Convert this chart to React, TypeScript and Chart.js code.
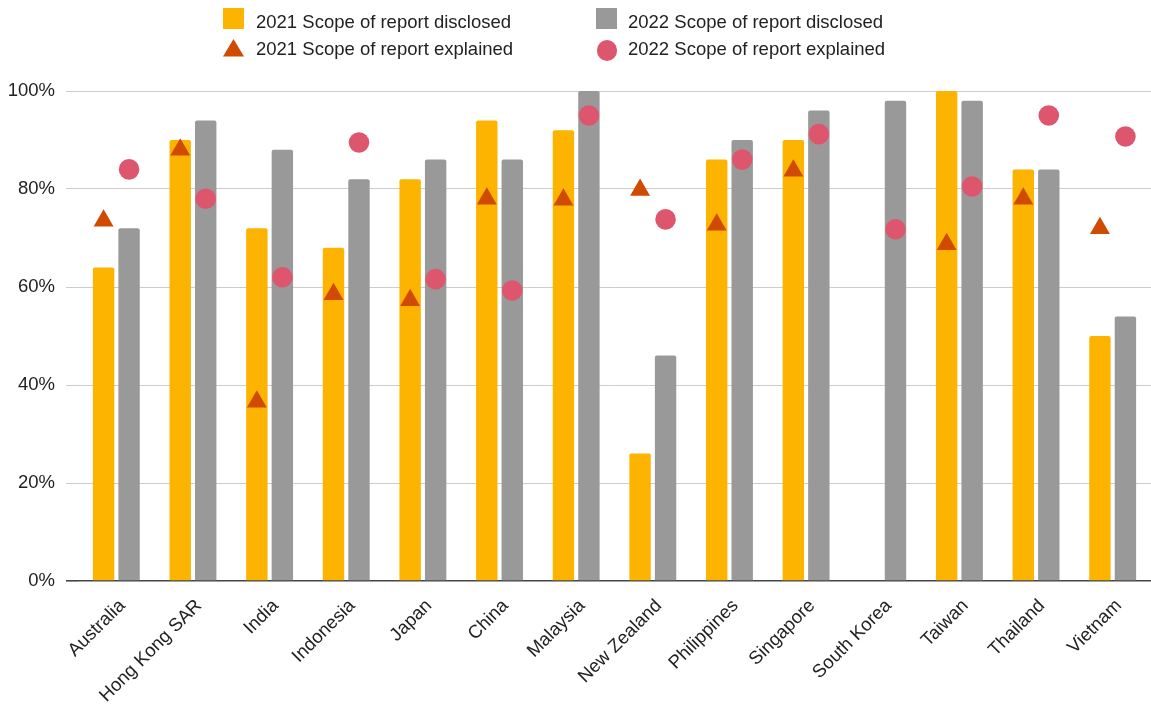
import React, { useEffect, useRef } from "react";
import { Chart, registerables } from "chart.js";

Chart.register(...registerables);

const categories = [
  "Australia",
  "Hong Kong SAR",
  "India",
  "Indonesia",
  "Japan",
  "China",
  "Malaysia",
  "New Zealand",
  "Philippines",
  "Singapore",
  "South Korea",
  "Taiwan",
  "Thailand",
  "Vietnam",
];

const disclosed2021 = [64, 90, 72, 68, 82, 94, 92, 26, 86, 90, null, 100, 84, 50];
const disclosed2022 = [72, 94, 88, 82, 86, 86, 100, 46, 90, 96, 98, 98, 84, 54];
const explained2021 = [73.5, 88, 36.6, 58.5, 57.3, 78, 77.8, 79.8, 72.7, 83.7, null, 68.7, 78, 72];
const explained2022 = [84, 78, 62, 89.5, 61.6, 59.3, 95, 73.8, 86, 91.2, 71.8, 80.5, 95, 90.7];

const yTickValues = [0, 20, 40, 60, 80, 100];

const seriesNames = [
  "2021 Scope of report disclosed",
  "2022 Scope of report disclosed",
  "2021 Scope of report explained",
  "2022 Scope of report explained",
];

const COLOR_2021_BAR = "#FCB400";
const COLOR_2022_BAR = "#999999";
const COLOR_2021_PT = "#D04A02";
const COLOR_2022_PT = "#DD566D";

const FONT_FAMILY = "'Liberation Sans', Arial, sans-serif";
const FONT_SIZE = 18.5;

const CAT_PCT = 0.665;
const BAR_PCT = 0.84;

// Dataset indices: 0,1 = bars; 2,3 = marker series placed over the matching bar
const POINT_TO_BAR: [number, number][] = [
  [2, 0],
  [3, 1],
];

const alignPointsToBars = {
  id: "alignPointsToBars",
  afterDatasetsUpdate(chart: any) {
    POINT_TO_BAR.forEach(([p, b]) => {
      const pm = chart.getDatasetMeta(p);
      const bm = chart.getDatasetMeta(b);
      pm.data.forEach((el: any, i: number) => {
        const bar = bm.data[i];
        if (bar && Number.isFinite(bar.x)) el.x = bar.x;
      });
    });
  },
};

export default function App() {
  const canvasRef = useRef<HTMLCanvasElement | null>(null);

  useEffect(() => {
    document.body.style.margin = "0";
    const canvas = canvasRef.current;
    if (!canvas) return;
    const font = { family: FONT_FAMILY, size: FONT_SIZE };
    const chart = new Chart(canvas, {
      type: "bar",
      data: {
        labels: categories,
        datasets: [
          {
            type: "bar",
            label: seriesNames[0],
            data: disclosed2021,
            backgroundColor: COLOR_2021_BAR,
            borderRadius: 2,
            borderSkipped: "start",
            categoryPercentage: CAT_PCT,
            barPercentage: BAR_PCT,
            order: 2,
          } as any,
          {
            type: "bar",
            label: seriesNames[1],
            data: disclosed2022,
            backgroundColor: COLOR_2022_BAR,
            borderRadius: 2,
            borderSkipped: "start",
            categoryPercentage: CAT_PCT,
            barPercentage: BAR_PCT,
            order: 2,
          } as any,
          {
            type: "line",
            label: seriesNames[2],
            data: explained2021,
            showLine: false,
            spanGaps: false,
            pointStyle: "triangle",
            pointRadius: 11.5,
            pointHoverRadius: 11.5,
            backgroundColor: COLOR_2021_PT,
            borderColor: COLOR_2021_PT,
            borderWidth: 0,
            pointBorderWidth: 0,
            order: 1,
          } as any,
          {
            type: "line",
            label: seriesNames[3],
            data: explained2022,
            showLine: false,
            pointStyle: "circle",
            pointRadius: 10.3,
            pointHoverRadius: 10.3,
            backgroundColor: COLOR_2022_PT,
            borderColor: COLOR_2022_PT,
            borderWidth: 0,
            pointBorderWidth: 0,
            order: 0,
          } as any,
        ],
      },
      plugins: [alignPointsToBars],
      options: {
        responsive: false,
        animation: false,
        layout: { autoPadding: false, padding: { left: 0, right: 0, top: 91, bottom: 0 } },
        plugins: {
          legend: { display: false },
          tooltip: { enabled: false },
        },
        scales: {
          x: {
            type: "category",
            offset: true,
            grid: { display: false },
            border: { display: false },
            ticks: {
              autoSkip: false,
              minRotation: 45,
              maxRotation: 45,
              font,
              color: "#222222",
              padding: 6,
              labelOffset: 6,
            },
            afterFit: (s: any) => {
              s.height = 129;
              s.paddingLeft = 0;
              s.paddingRight = 0;
            },
          },
          y: {
            type: "linear",
            min: 0,
            max: 100,
            afterBuildTicks: (s: any) => {
              s.ticks = yTickValues.map((v) => ({ value: v }));
            },
            ticks: {
              callback: (v: any) => v + "%",
              font,
              color: "#222222",
              padding: 11,
            },
            grid: {
              color: (ctx: any) => (ctx.tick && ctx.tick.value === 0 ? "#444444" : "#CCCCCC"),
              lineWidth: (ctx: any) => (ctx.tick && ctx.tick.value === 0 ? 1.6 : 1),
              drawTicks: true,
              tickLength: 12,
            },
            border: { display: false },
            afterFit: (s: any) => {
              s.width = 78;
              s.paddingTop = 0;
              s.paddingBottom = 0;
            },
          },
        } as any,
      },
    });
    return () => chart.destroy();
  }, []);

  const textStyle: React.CSSProperties = {
    position: "absolute",
    fontFamily: FONT_FAMILY,
    fontSize: FONT_SIZE,
    lineHeight: "1",
    color: "#222222",
    whiteSpace: "nowrap",
  };

  return (
    <div style={{ position: "fixed", left: 0, top: 0, width: 1151, height: 710, background: "#ffffff" }}>
      <canvas ref={canvasRef} width={1151} height={710} style={{ display: "block", position: "absolute", left: 0, top: 0 }} />
      <div style={{ position: "absolute", left: 223, top: 8, width: 21, height: 21, background: COLOR_2021_BAR }} />
      <div style={{ ...textStyle, left: 256, top: 12.8 }}>{seriesNames[0]}</div>
      <svg style={{ position: "absolute", left: 223, top: 39 }} width={21} height={18}>
        <polygon points="10.5,0 21,17.5 0,17.5" fill={COLOR_2021_PT} />
      </svg>
      <div style={{ ...textStyle, left: 256, top: 39.8 }}>{seriesNames[2]}</div>
      <div style={{ position: "absolute", left: 596, top: 8, width: 21, height: 21, background: COLOR_2022_BAR }} />
      <div style={{ ...textStyle, left: 628, top: 12.8 }}>{seriesNames[1]}</div>
      <div
        style={{
          position: "absolute",
          left: 596.5,
          top: 40,
          width: 20.6,
          height: 20.6,
          borderRadius: "50%",
          background: COLOR_2022_PT,
        }}
      />
      <div style={{ ...textStyle, left: 628, top: 39.8 }}>{seriesNames[3]}</div>
    </div>
  );
}
